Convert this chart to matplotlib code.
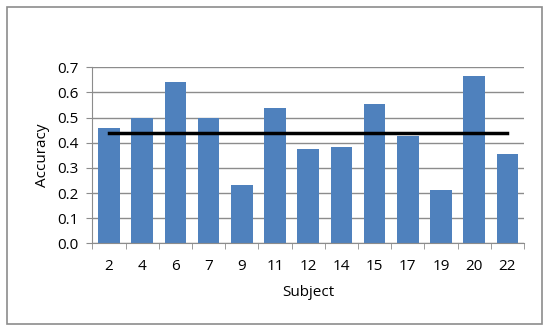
import matplotlib
matplotlib.use("Agg")
import matplotlib.pyplot as plt
from matplotlib.patches import Rectangle

subjects = ["2", "4", "6", "7", "9", "11", "12", "14", "15", "17", "19", "20", "22"]
accuracy = [0.46, 0.50, 0.642, 0.50, 0.231, 0.537, 0.374, 0.384, 0.555, 0.427, 0.212, 0.667, 0.356]
mean_acc = [0.44] * len(subjects)
yticks = [0.0, 0.1, 0.2, 0.3, 0.4, 0.5, 0.6, 0.7]

W, H = 550, 333
fig = plt.figure(figsize=(W / 100, H / 100), dpi=100)
plt.rcParams['font.family'] = ['Open Sans', 'DejaVu Sans']

# outer border
fig.patches.append(Rectangle((6.7 / W, 1 - 324 / H), (541.7 - 6.7) / W, (324 - 7) / H,
                             transform=fig.transFigure, fill=False,
                             edgecolor='#8c8c8c', linewidth=1.2))

left, right, top, bottom = 92.3, 524, 67.3, 243.3
ax = fig.add_axes([left / W, 1 - bottom / H, (right - left) / W, (bottom - top) / H])

x = list(range(len(subjects)))
ax.bar(x, accuracy, width=0.65, color='#4f81bd', zorder=2)
ax.plot(x, mean_acc, color='black', linewidth=2.5, zorder=3)

ax.set_xlim(-0.5, len(subjects) - 0.5)
ax.set_ylim(0, 0.7)
ax.set_yticks(yticks)
ax.set_yticklabels([f"{v:.1f}" for v in yticks], fontsize=11)
ax.set_xticks(x)
ax.set_xticklabels(subjects, fontsize=11)
ax.xaxis.set_tick_params(length=0, pad=11)
ax.set_xticks([i - 0.5 for i in range(len(subjects) + 1)], minor=True)
ax.tick_params(axis='x', which='minor', length=4, color='#8c8c8c', direction='out')
ax.tick_params(axis='y', length=4, color='#8c8c8c', direction='out', pad=6)
ax.yaxis.grid(True, color='#8c8c8c', linewidth=1)
ax.set_axisbelow(True)
for s in ['top', 'right']:
    ax.spines[s].set_visible(False)
for s in ['left', 'bottom']:
    ax.spines[s].set_color('#8c8c8c')
ax.set_xlabel("Subject", fontsize=11, labelpad=8)
ax.set_ylabel("Accuracy", fontsize=11, labelpad=5)

fig.savefig("out.png", dpi=100)
